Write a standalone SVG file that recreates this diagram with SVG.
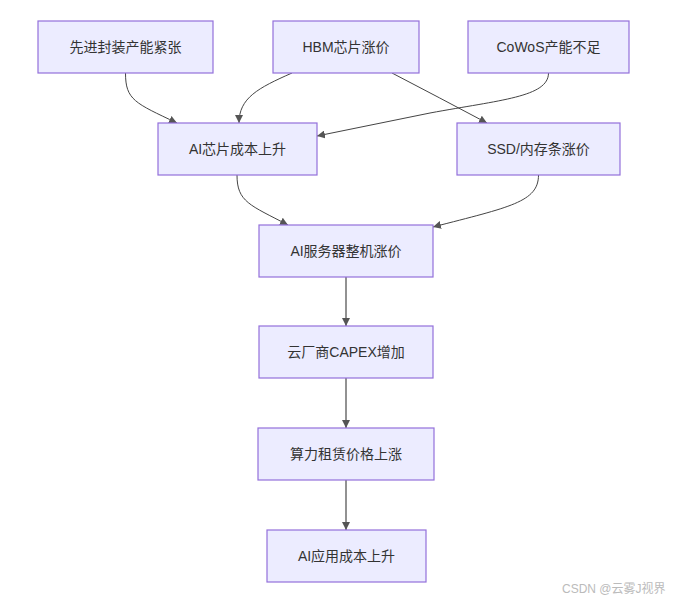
<svg xmlns="http://www.w3.org/2000/svg" width="677" height="603" viewBox="0 0 677 603">
<defs>
<marker id="arr" viewBox="0 0 10 10" refX="10" refY="5" markerWidth="8" markerHeight="8" orient="auto" markerUnits="userSpaceOnUse">
<path d="M0,0 L10,5 L0,10 z" fill="#555"/>
</marker>
<style>
.n rect{fill:#ECECFF;stroke:#9370DB;stroke-width:1.2}
.n text{font-family:"Liberation Sans","Noto Sans CJK SC",sans-serif;font-size:14px;fill:#333;text-anchor:middle;dominant-baseline:central}
.e path{fill:none;stroke:#444;stroke-width:1;marker-end:url(#arr)}
.e path.v{stroke:#777;stroke-width:1.6}
.wm{font-family:"Liberation Sans","Noto Sans CJK SC",sans-serif;font-size:12px;fill:#bbb}
</style>
</defs>
<rect width="677" height="603" fill="#fff"/>
<g id="edges" class="e">
<path d="M125.5,73 C125.5,100 135,103 177,123"/>
<path d="M292,73 C258,88 239,98 239,123"/>
<path d="M392,73 Q440,98 487,123"/>
<path d="M548.5,73 C548.5,97 500,100 430,113 L317,136"/>
<path d="M237,175 C237,202 250,205 288,225"/>
<path d="M538.5,175 C538.5,202 510,207 433,227"/>
<path class="v" d="M346,277 L346,326"/>
<path class="v" d="M346,378 L346,428"/>
<path class="v" d="M346,480 L346,530"/>
</g>
<g id="n1" class="n"><rect x="38" y="21" width="175" height="52"/><text x="125.5" y="47">先进封装产能紧张</text></g>
<g id="n2" class="n"><rect x="273" y="21" width="146" height="52"/><text x="346" y="47">HBM芯片涨价</text></g>
<g id="n3" class="n"><rect x="468" y="21" width="161" height="52"/><text x="548.5" y="47">CoWoS产能不足</text></g>
<g id="n4" class="n"><rect x="158" y="123" width="159" height="52"/><text x="237.5" y="149">AI芯片成本上升</text></g>
<g id="n5" class="n"><rect x="457" y="123" width="163" height="52"/><text x="538.5" y="149">SSD/内存条涨价</text></g>
<g id="n6" class="n"><rect x="259" y="225" width="174" height="52"/><text x="346" y="251">AI服务器整机涨价</text></g>
<g id="n7" class="n"><rect x="259" y="326" width="174" height="52"/><text x="346" y="352">云厂商CAPEX增加</text></g>
<g id="n8" class="n"><rect x="258" y="428" width="176" height="52"/><text x="346" y="454">算力租赁价格上涨</text></g>
<g id="n9" class="n"><rect x="267" y="530" width="159" height="52"/><text x="346.5" y="556">AI应用成本上升</text></g>
<text class="wm" x="562" y="593">CSDN @云雾J视界</text>
</svg>
